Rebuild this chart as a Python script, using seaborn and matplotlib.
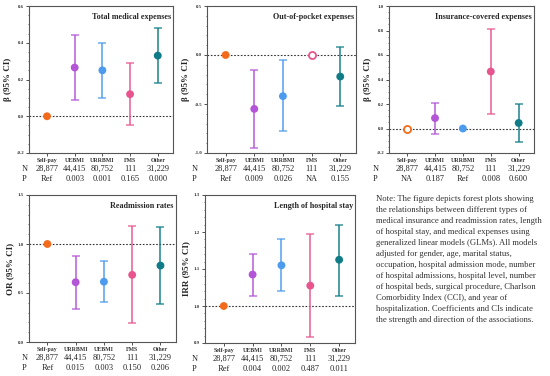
import numpy as np
import matplotlib
matplotlib.use('Agg')
import matplotlib.pyplot as plt
import matplotlib.transforms as mtransforms
import seaborn as sns
import pandas as pd

sns.set_style('ticks')
plt.rcParams['font.family'] = ['Liberation Serif', 'DejaVu Serif']

# data
colors = ['#F26B1D', '#B355D6', '#4C9BEE', '#E8558E', '#107C88']
n_row = ['28,877', '44,415', '80,752', '111', '31,229']

cats_std = ['Self-pay', 'UEBMI', 'URRBMI', 'FMS', 'Other']
cats_readm = ['Self-pay', 'URRBMI', 'UEBMI', 'FMS', 'Other']

total_est = [0.0, 0.265, 0.25, 0.12, 0.33]
total_lo = [np.nan, 0.09, 0.10, -0.05, 0.18]
total_hi = [np.nan, 0.44, 0.40, 0.29, 0.48]
total_p = ['Ref', '0.003', '0.001', '0.165', '0.000']

oop_est = [0.0, -0.55, -0.42, 0.0, -0.22]
oop_lo = [np.nan, -0.95, -0.78, np.nan, -0.52]
oop_hi = [np.nan, -0.15, -0.05, np.nan, 0.08]
oop_p = ['Ref', '0.009', '0.026', 'NA', '0.155']

ins_est = [0.0, 0.085, 0.0, 0.465, 0.045]
ins_lo = [np.nan, -0.045, np.nan, 0.12, -0.11]
ins_hi = [np.nan, 0.21, np.nan, 0.81, 0.20]
ins_p = ['NA', '0.187', 'Ref', '0.008', '0.600']

readm_est = [1.0, 0.61, 0.615, 0.685, 0.78]
readm_lo = [np.nan, 0.34, 0.405, 0.19, 0.39]
readm_hi = [np.nan, 0.88, 0.825, 1.18, 1.17]
readm_p = ['Ref', '0.015', '0.003', '0.150', '0.206']

los_est = [1.0, 1.085, 1.11, 1.055, 1.125]
los_lo = [np.nan, 1.028, 1.04, 0.915, 1.028]
los_hi = [np.nan, 1.14, 1.18, 1.195, 1.22]
los_p = ['Ref', '0.004', '0.002', '0.487', '0.011']

W, H = 550, 376
fig = plt.figure(figsize=(W / 100, H / 100), dpi=100)


def px_axes(x0, y0, x1, y1):
    return fig.add_axes([x0 / W, (H - y1) / H, (x1 - x0) / W, (y1 - y0) / H])


def panel(ax, title, cats, est, lo, hi, pvals, ylim, yticks, ref, ylabel,
          open_idx=(), n_off=12):
    x = np.arange(len(cats))
    df = pd.DataFrame({'x': x, 'est': est, 'cat': cats})
    for i in range(len(cats)):
        if not np.isnan(lo[i]):
            ax.errorbar(x[i], est[i], yerr=[[est[i] - lo[i]], [hi[i] - est[i]]],
                        fmt='none', ecolor=colors[i], alpha=0.75, elinewidth=1.4,
                        capsize=3.2, capthick=1.2, zorder=2)
    filled = df[~df['x'].isin(open_idx)]
    sns.scatterplot(data=filled, x='x', y='est', hue='cat', palette=dict(zip(cats, colors)),
                    s=32, edgecolor='none', legend=False, ax=ax, zorder=3)
    for i in open_idx:
        ax.scatter(x[i], est[i], s=26, facecolor='white', edgecolor=colors[i],
                   linewidth=1.3, zorder=3)
    ax.axhline(ref, color='#333333', ls=(0, (1.5, 1.5)), lw=0.8, zorder=1)
    ax.set_xlim(-0.65, 4.55)
    ax.set_ylim(*ylim)
    ax.set_yticks(yticks)
    ax.set_yticklabels([f'{t:.1f}' for t in yticks], fontsize=3.5, fontweight='bold')
    ax.set_xticks(x)
    ax.set_xticklabels(cats, fontsize=4.2, fontweight='bold')
    ax.tick_params(axis='both', length=2, width=0.6, pad=1.5, colors='#333333')
    ax.minorticks_on()
    ax.tick_params(axis='x', which='minor', bottom=False)
    ax.tick_params(axis='y', which='minor', length=1, width=0.5)
    ax.set_xlabel('')
    ax.set_ylabel(ylabel, fontsize=6.5, fontweight='bold', labelpad=3)
    for sp in ax.spines.values():
        sp.set_visible(True)
        sp.set_linewidth(0.8)
        sp.set_color('#555555')
    ax.text(0.985, 0.955, title, transform=ax.transAxes, ha='right', va='top',
            fontsize=5.9, fontweight='bold')
    dx = 1 / (ax.get_position().width * W)
    dy = 1 / (ax.get_position().height * H)
    tr = mtransforms.blended_transform_factory(ax.transData, ax.transAxes)
    ax.text(-n_off * dx, -16 * dy, 'N', transform=ax.transAxes, ha='left', va='center', fontsize=6)
    ax.text(-n_off * dx, -26 * dy, 'P', transform=ax.transAxes, ha='left', va='center', fontsize=6)
    for i in range(len(cats)):
        ax.text(x[i], -16 * dy, n_row[i], transform=tr, ha='center', va='center', fontsize=6)
        ax.text(x[i], -26 * dy, pvals[i], transform=tr, ha='center', va='center', fontsize=6)


ax1 = px_axes(29, 6, 173, 153)
panel(ax1, 'Total medical expenses', cats_std, total_est, total_lo, total_hi, total_p,
      (-0.2, 0.6), [-0.2, 0.0, 0.2, 0.4, 0.6], 0.0, 'β (95% CI)', n_off=7)

ax2 = px_axes(207, 6, 356, 153)
panel(ax2, 'Out-of-pocket expenses', cats_std, oop_est, oop_lo, oop_hi, oop_p,
      (-1.0, 0.5), [-1.0, -0.5, 0.0, 0.5], 0.0, 'β (95% CI)', open_idx=(3,), n_off=15)

ax3 = px_axes(389, 6, 534, 153)
panel(ax3, 'Insurance-covered expenses', cats_std, ins_est, ins_lo, ins_hi, ins_p,
      (-0.2, 1.0), [-0.2, 0.0, 0.2, 0.4, 0.6, 0.8, 1.0], 0.0, 'β (95% CI)',
      open_idx=(0,), n_off=16)

ax4 = px_axes(29, 195, 176, 342)
panel(ax4, 'Readmission rates', cats_readm, readm_est, readm_lo, readm_hi, readm_p,
      (0.0, 1.5), [0.0, 0.5, 1.0, 1.5], 1.0, 'OR (95% CI)', n_off=7)

ax5 = px_axes(205, 195, 355, 343)
panel(ax5, 'Length of hospital stay', cats_std, los_est, los_lo, los_hi, los_p,
      (0.9, 1.3), [0.9, 1.0, 1.1, 1.2, 1.3], 1.0, 'IRR (95% CI)', n_off=13)

note = ('Note: The figure depicts forest plots showing\n'
        'the relationships between different types of\n'
        'medical insurance and readmission rates, length\n'
        'of hospital stay, and medical expenses using\n'
        'generalized linear models (GLMs). All models\n'
        'adjusted for gender, age, marital status,\n'
        'occupation, hospital admission mode, number\n'
        'of hospital admissions, hospital level, number\n'
        'of hospital beds, surgical procedure, Charlson\n'
        'Comorbidity Index (CCI), and year of\n'
        'hospitalization. Coefficients and CIs indicate\n'
        'the strength and direction of the associations.')
fig.text(376 / W, 1 - 195 / H, note, ha='left', va='top', fontsize=6.2,
         color='#333333', linespacing=1.5)

fig.savefig('out.png', dpi=100)
